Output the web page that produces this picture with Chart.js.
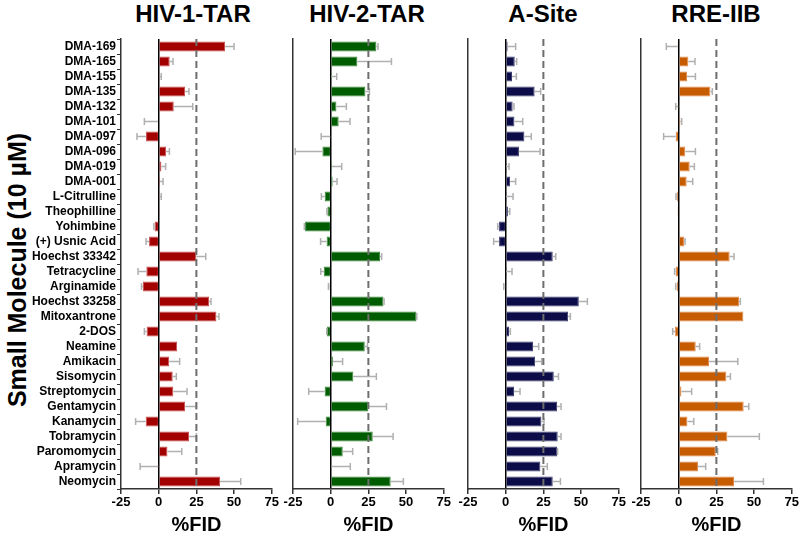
<!DOCTYPE html>
<html>
<head>
<meta charset="utf-8">
<script src="https://cdn.jsdelivr.net/npm/chart.js@4/dist/chart.umd.min.js"></script>
<style>
  body { margin: 0; background: #fff; width: 800px; height: 536px; position: relative; overflow: hidden;
         font-family: "Liberation Sans", Arial, sans-serif; }
  canvas { position: absolute; top: 0; }
  .title { position: absolute; top: 2px; font-weight: bold; font-size: 24px; line-height: 24px;
           transform: translateX(-50%); white-space: nowrap; color: #000; }
  #ylab { position: absolute; left: 17px; top: 270px; transform: translate(-50%, -50%) rotate(-90deg);
          font-weight: bold; font-size: 25px; white-space: nowrap; color: #000; }
</style>
</head>
<body>
<div id="ylab">Small Molecule (10 µM)</div>
<div class="title" style="left:193px">HIV-1-TAR</div>
<div class="title" style="left:367px">HIV-2-TAR</div>
<div class="title" style="left:543px">A-Site</div>
<div class="title" style="left:716px">RRE-IIB</div>

<canvas id="c1" width="280" height="536" style="left:0px"></canvas>
<canvas id="c2" width="171" height="536" style="left:281px"></canvas>
<canvas id="c3" width="171" height="536" style="left:456px"></canvas>
<canvas id="c4" width="171" height="536" style="left:629px"></canvas>

<script>
const molecules = ['DMA-169', 'DMA-165', 'DMA-155', 'DMA-135', 'DMA-132', 'DMA-101', 'DMA-097', 'DMA-096',
    'DMA-019', 'DMA-001', 'L-Citrulline', 'Theophilline', 'Yohimbine', '(+) Usnic Acid', 'Hoechst 33342',
    'Tetracycline', 'Arginamide', 'Hoechst 33258', 'Mitoxantrone', '2-DOS', 'Neamine', 'Amikacin',
    'Sisomycin', 'Streptomycin', 'Gentamycin', 'Kanamycin', 'Tobramycin', 'Paromomycin', 'Apramycin', 'Neomycin'];

const xTicks = [-25, 0, 25, 50, 75];
const cutoff = 25;

// %FID values and errors per RNA target
const hiv1Tar = [44, 7.3, 0.7, 17.5, 10, -0.5, -8.4, 4.9, 1.8, 0.9, 0.7, 0.3, -2.7, -6.4, 25, -8.2,
    -10.4, 33.4, 38.3, -8, 12.2, 6.9, 9.3, 9.7, 17.5, -8.6, 20.1, 5.8, -0.3, 40.7];
const hiv1TarErr = [6, 2.2, 1, 2.6, 12.6, 9, 6, 2.2, 2.8, 2, 1, 0, 0.5, 2, 6.2, 5.5,
    1, 1.3, 1.7, 1.5, 0, 7, 2.4, 9.1, 7.5, 6.7, 4.9, 9.5, 12, 13.7];

const hiv2Tar = [30.3, 17.7, 0.2, 23, 3.8, 5.3, -0.3, -5.5, 0.9, 1.3, -4, -2.2, -17, -2.7, 32.7, -4.6,
    -0.7, 35, 56.9, -2.4, 22.6, 1.5, 15, -4, 25, -3.3, 27.9, 8, 0.4, 39.8];
const hiv2TarErr = [1.1, 22.6, 3.8, 2.7, 6.6, 7.5, 6, 18, 6.4, 2.9, 2.2, 0.3, 0.5, 4, 1.1, 2,
    0.8, 0.4, 0.2, 0.2, 1.8, 6.4, 15.3, 10.6, 12, 18.6, 13.5, 6.6, 12.6, 8.4];

const aSite = [1.3, 6, 4.2, 19.2, 4.6, 5.8, 12.4, 8.8, 0.2, 2.9, 0.2, 1.5, -4.4, -4.4, 31.2, 0.2,
    -0.3, 48.5, 41.4, 2.2, 18.1, 19.5, 31.9, 5.5, 34.1, 23.7, 34.5, 34.1, 23, 31.2];
const aSiteErr = [5.3, 1.3, 2.9, 4, 0.9, 5.5, 4.6, 14, 2, 3.7, 4.7, 1.2, 0.9, 3.6, 2, 4,
    1, 5.7, 1.5, 0.9, 3.8, 4.4, 3.1, 4, 2.6, 1.7, 2.2, 0.3, 4.6, 5.1];

const rreIIB = [-0.7, 6.4, 5.5, 21, -0.3, 1.1, -2, 4.4, 7.3, 5.3, -1.1, -0.7, 0.7, 3.5, 33.8, -2,
    -1.3, 40, 42.9, -2.4, 11.3, 20.1, 31.6, 1.8, 43.1, 5.8, 32.3, 24.6, 12.8, 36.7];
const rreIIBErr = [7.5, 4.4, 5.6, 1.3, 1.7, 0.9, 8, 6.7, 3.1, 4, 0.7, 0, 0, 0.7, 2.9, 0.7,
    0.7, 0.9, 0, 1.6, 2.6, 19.1, 2.7, 6.8, 3.4, 4.2, 21.2, 1.3, 5.1, 19.5];

const errorBars = {
    id: 'errorBars',
    afterDatasetsDraw(chart, args, opts) {
        const ctx = chart.ctx;
        const xs = chart.scales.x;
        const values = chart.data.datasets[0].data;
        ctx.save();
        ctx.strokeStyle = '#b0b0b0';
        ctx.lineWidth = 1.5;
        chart.getDatasetMeta(0).data.forEach((bar, i) => {
            const e = opts.errors[i];
            if (!e) return;
            const v = values[i];
            const dir = v < 0 ? -1 : 1;
            const x0 = xs.getPixelForValue(v);
            const x1 = xs.getPixelForValue(v + dir * e);
            ctx.beginPath();
            ctx.moveTo(x0, bar.y);
            ctx.lineTo(x1, bar.y);
            ctx.moveTo(x1, bar.y - 3.5);
            ctx.lineTo(x1, bar.y + 3.5);
            ctx.stroke();
        });
        ctx.restore();
    }
};

const cutoffLine = {
    id: 'cutoffLine',
    afterDraw(chart) {
        const ctx = chart.ctx;
        const x = chart.scales.x.getPixelForValue(cutoff);
        const area = chart.chartArea;
        ctx.save();
        ctx.strokeStyle = '#6e6e6e';
        ctx.lineWidth = 2;
        ctx.setLineDash([7, 4]);
        ctx.beginPath();
        ctx.moveTo(x, area.top);
        ctx.lineTo(x, area.bottom);
        ctx.stroke();
        ctx.restore();
    }
};

function makePanel(id, values, errors, color, edge, showLabels) {
    return new Chart(document.getElementById(id), {
        type: 'bar',
        data: {
            labels: molecules,
            datasets: [{
                data: values,
                backgroundColor: color,
                borderColor: edge,
                borderWidth: 1,
                barPercentage: 0.68,
                categoryPercentage: 1
            }]
        },
        options: {
            indexAxis: 'y',
            responsive: false,
            animation: false,
            layout: { padding: { top: 39, right: 8, bottom: 0, left: 0 } },
            plugins: {
                legend: { display: false },
                tooltip: { enabled: false },
                errorBars: { errors: errors }
            },
            scales: {
                x: {
                    min: xTicks[0],
                    max: xTicks[xTicks.length - 1],
                    z: 1,
                    afterBuildTicks: s => { s.ticks = xTicks.map(v => ({ value: v })); },
                    afterFit: s => { s.height = 47; },
                    ticks: { color: '#000', font: { family: 'Liberation Sans', weight: 'bold', size: 13 }, padding: 1, maxRotation: 0 },
                    grid: {
                        color: c => (c.tick && c.tick.value === 0) ? '#000' : 'rgba(0,0,0,0)',
                        lineWidth: 1.5,
                        tickColor: '#333',
                        tickLength: 5
                    },
                    border: { display: true, color: '#333', width: 1.5 },
                    title: {
                        display: true,
                        text: '%FID',
                        color: '#000',
                        font: { family: 'Liberation Sans', weight: 'bold', size: 20, lineHeight: 1 },
                        padding: { top: 0, bottom: 1 }
                    }
                },
                y: {
                    afterFit: s => { s.width = showLabels ? 121 : 12; },
                    ticks: {
                        display: showLabels,
                        color: '#000',
                        autoSkip: false,
                        padding: 1,
                        font: { family: 'Liberation Sans', weight: 'bold', size: 12 }
                    },
                    grid: { display: showLabels, drawOnChartArea: false, color: '#333', tickLength: 4 },
                    border: { display: true, color: '#333', width: 1.5 }
                }
            }
        },
        plugins: [errorBars, cutoffLine]
    });
}

makePanel('c1', hiv1Tar, hiv1TarErr, '#a30000', '#c85050', true);
makePanel('c2', hiv2Tar, hiv2TarErr, '#005c00', '#3d8a3d', false);
makePanel('c3', aSite, aSiteErr, '#0c0c48', '#3c3c72', false);
makePanel('c4', rreIIB, rreIIBErr, '#c65b00', '#e08a4c', false);
</script>
</body>
</html>
